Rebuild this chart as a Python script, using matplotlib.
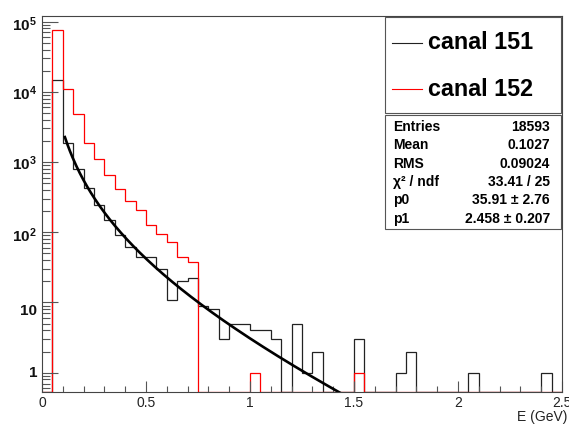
import numpy as np
import matplotlib
matplotlib.use("Agg")
import matplotlib.pyplot as plt
from matplotlib.patches import Rectangle
from matplotlib.lines import Line2D
from matplotlib.transforms import blended_transform_factory, ScaledTranslation

plt.rcParams['font.family'] = ['Liberation Sans', 'DejaVu Sans']
plt.rcParams['mathtext.fontset'] = 'custom'
plt.rcParams['mathtext.rm'] = 'Liberation Sans'
plt.rcParams['mathtext.bf'] = 'Liberation Sans:bold'

# histogram contents, 50 bins of 0.05 GeV from 0 to 2.5
edges = np.linspace(0, 2.5, 51)
canal151 = [0, 14700, 1870, 797, 421, 241, 147, 91, 62, 45,
            44, 30, 11, 20, 22, 9, 8, 3, 5, 5,
            4, 4, 3, 0, 5, 1, 2, 0, 0, 0,
            3, 0, 0, 0, 1, 2, 0, 0, 0, 0,
            0, 1, 0, 0, 0, 0, 0, 0, 1, 0]
canal152 = [0, 75700, 11040, 4900, 1872, 1119, 661, 418, 279, 207,
            128, 95, 72, 45, 38, 0, 0, 0, 0, 0,
            1, 0, 0, 0, 0, 0, 0, 0, 0, 0,
            1, 0, 0, 0, 0, 0, 0, 0, 0, 0,
            0, 0, 0, 0, 0, 0, 0, 0, 0, 0]

# fit results shown in the stats box
p0 = 35.91
p1 = 2.458
stats = [("Entries", "18593"), ("Mean", "0.1027"), ("RMS", "0.09024"),
         ("\u03c7\u00b2 / ndf", "33.41 / 25"), ("p0", "35.91 \u00b1 2.76"),
         ("p1", "2.458 \u00b1 0.207")]

ymin, ymax = 0.53, 1.2e5

W, H = 569, 425
fig = plt.figure(figsize=(W / 100, H / 100), dpi=100)
ax = fig.add_axes([42 / W, 1 - 392 / H, 520 / W, 376 / H])

def show(v):
    v = np.asarray(v, dtype=float)
    return np.where(v > 0, v, ymin)

ax.stairs(show(canal151), edges, color='#222222', lw=0.9, baseline=None)
ax.stairs(show(canal152), edges, color='red', lw=0.9, baseline=None)

xf = np.linspace(0.11, 2.5, 400)
ax.plot(xf, p0 * np.exp(-p1 * xf) / xf**2, color='black', lw=1.9)

ax.set_yscale('log')
ax.set_xlim(0, 2.5)
ax.set_ylim(ymin, ymax)

ax.set_xticks([0, 0.5, 1, 1.5, 2, 2.5])
ax.set_xticklabels(['0', '0.5', '1', '1.5', '2', '2.5'])
ax.set_xticks(np.arange(0, 2.51, 0.1), minor=True)
ax.tick_params(axis='x', which='major', direction='in', length=8, width=0.8,
               color='#555555', labelsize=10, labelcolor='#222222', pad=3)
ax.tick_params(axis='x', which='minor', direction='in', length=4.3, width=0.8,
               color='#555555')
ax.tick_params(axis='y', which='major', direction='in', length=11.5, width=0.8,
               color='#555555', labelleft=False)
ax.tick_params(axis='y', which='minor', direction='in', length=5.8, width=0.8,
               color='#555555', labelleft=False)
ax.tick_params(top=False, right=False)
for s in ax.spines.values():
    s.set_linewidth(0.8)
    s.set_color('#444444')

# y labels drawn as text (ROOT style, bold)
ylab = [(1e5, r'$\mathbf{10^{5}}$', 3), (1e4, r'$\mathbf{10^{4}}$', 2),
        (1e3, r'$\mathbf{10^{3}}$', 2), (1e2, r'$\mathbf{10^{2}}$', 3),
        (10, '10', 9), (1, '1', 0)]
tr = blended_transform_factory(fig.transFigure, ax.transData)
for val, lab, off in ylab:
    t = ax.text(37 / W, val, lab, transform=tr, ha='right', va='center',
                fontsize=11, fontweight='bold', color='#111111')
    if off:
        t.set_transform(tr + ScaledTranslation(0, -off / 100, fig.dpi_scale_trans))

fig.text(567 / W, 1 - 420.5 / H, 'E (GeV)', ha='right', va='baseline',
         fontsize=10, color='#222222')

def fx(x):
    return x / W

def fy(y):
    return 1 - y / H

# legend box
fig.add_artist(Rectangle((fx(384.7), fy(112.7)), (561 - 384.7) / W, (112.7 - 16.7) / H,
                         transform=fig.transFigure, facecolor='white',
                         edgecolor='#555555', lw=0.8, zorder=5))
for yy, col, lab in [(42.7, '#222222', 'canal 151'), (89.3, 'red', 'canal 152')]:
    fig.add_artist(Line2D([fx(391.7), fx(421.7)], [fy(yy), fy(yy)], color=col,
                          lw=0.8, transform=fig.transFigure, zorder=6))
    fig.text(fx(428.5), fy(yy), lab, ha='left', va='center', fontsize=16.8,
             fontweight='bold', zorder=6)

# stats box
fig.add_artist(Rectangle((fx(384.7), fy(228.7)), (561 - 384.7) / W, (228.7 - 114.7) / H,
                         transform=fig.transFigure, facecolor='white',
                         edgecolor='#555555', lw=0.8, zorder=5))
for i, (k, v) in enumerate(stats):
    yy = 126.7 + 18.4 * i
    fig.text(fx(393), fy(yy), k, ha='left', va='center', fontsize=10,
             fontweight='bold', zorder=6)
    fig.text(fx(550), fy(yy), v, ha='right', va='center', fontsize=10,
             fontweight='bold', zorder=6)

fig.savefig('out.png', dpi=100)
